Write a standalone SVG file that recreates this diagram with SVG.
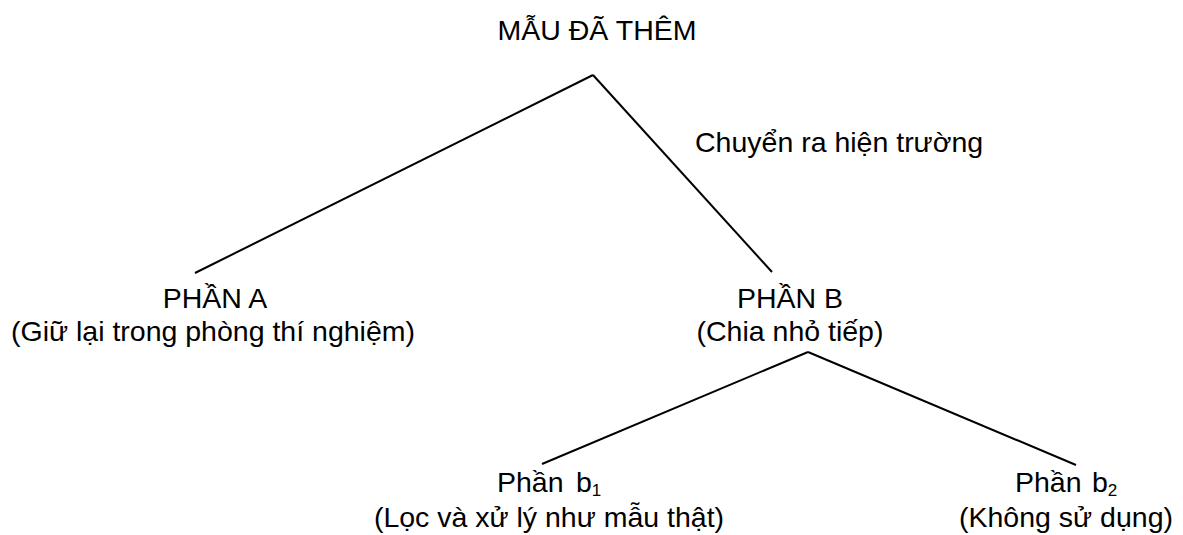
<svg xmlns="http://www.w3.org/2000/svg" width="1183" height="535" viewBox="0 0 1183 535">
  <style>
    text { font-family: "Liberation Sans", Arial, sans-serif; font-size: 28.5px; fill: #000; }
    .c { text-anchor: middle; }
    .sub { font-size: 17px; }
    line { stroke: #000; stroke-width: 2; }
  </style>
  <rect width="1183" height="535" fill="#fff"/>

  <g id="edges">
    <line x1="593" y1="75" x2="195" y2="273"/>
    <line x1="593" y1="75" x2="772" y2="272"/>
    <line x1="808" y1="352" x2="542" y2="464"/>
    <line x1="808" y1="352" x2="1076" y2="465"/>
  </g>

  <g id="root">
    <text class="c" x="597" y="40">MẪU ĐÃ THÊM</text>
  </g>

  <g id="edge-label">
    <text x="695" y="152">Chuyển ra hiện trường</text>
  </g>

  <g id="part-a">
    <text class="c" x="215" y="308">PHẦN A</text>
    <text class="c" x="213" y="341">(Giữ lại trong phòng thí nghiệm)</text>
  </g>

  <g id="part-b">
    <text class="c" x="790" y="308">PHẦN B</text>
    <text class="c" x="790" y="341">(Chia nhỏ tiếp)</text>
  </g>

  <g id="part-b1">
    <text x="497" y="492">Phần<tspan x="576">b</tspan><tspan class="sub" dy="4">1</tspan></text>
    <text class="c" x="549" y="527">(Lọc và xử lý như mẫu thật)</text>
  </g>

  <g id="part-b2">
    <text x="1015" y="492">Phần<tspan x="1092">b</tspan><tspan class="sub" dy="4">2</tspan></text>
    <text class="c" x="1066" y="527">(Không sử dụng)</text>
  </g>
</svg>
